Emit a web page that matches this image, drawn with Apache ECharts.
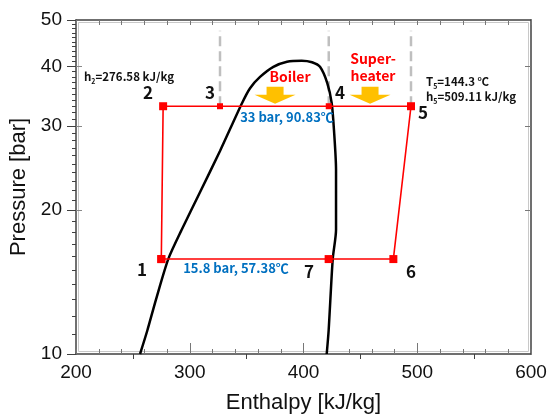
<!DOCTYPE html>
<html>
<head>
<meta charset="utf-8">
<script src="https://cdn.jsdelivr.net/npm/echarts@6/dist/echarts.min.js"></script>
<style>
    html, body { margin: 0; padding: 0; background: #fff; }
    #main { width: 556px; height: 419px; }
</style>
</head>
<body>
<div id="main"></div>
<script>
// 饱和线 (P-h 图)
var domeH = [256.3, 262.7, 270.3, 281.1, 292.9, 309, 326.6, 345.7, 353, 361.8, 373.5, 385.5, 398.4, 407.5, 414.5, 420.9, 424.8, 426.8, 428.6, 428.6, 425.7, 422.1, 420.4];
var domeP = [10, 11.2, 13, 15.8, 18.2, 21.8, 26.6, 33.4, 36, 38, 39.9, 40.9, 41.1, 40.8, 39.9, 36.9, 33.5, 29.4, 24.3, 18.2, 15.8, 11.2, 10];

// 循环状态点 1..7
var stateNames = ['1', '2', '3', '4', '5', '6', '7'];
var stateH = [275, 276.6, 326.6, 422.2, 494.5, 479, 422.1];
var stateP = [15.8, 33, 33, 33, 33, 15.8, 15.8];
var cycleOrder = [0, 1, 2, 3, 4, 5, 6, 0];

// 虚线 (状态 3, 4, 5 上方)
var dashH = [326.6, 422.2, 494.5];
var dashTopP = 47.5;

var xTickLabels = [200, 300, 400, 500, 600];
var yTickLabels = [10, 20, 30, 40, 50];

var xMinor = [];
for (var v = 200; v <= 600; v += 20) xMinor.push(v);
var xHalf = [250, 350, 450, 550];
var yMinor = [];
for (var p = 10; p <= 50; p += 1) yMinor.push(p);

var AXIS_COLOR = '#404040';
var TICK_FONT = '"Liberation Sans", Arial, sans-serif';
var NOTE_FONT = '"Noto Sans CJK KR", "Noto Sans", sans-serif';

var chart = echarts.init(document.getElementById('main'), null, { renderer: 'canvas' });

function gridBox() {
    return { left: 76, right: 25, top: 20, bottom: 65, outerBoundsMode: 'none' };
}
function xBase(grid, pos) {
    return {
        type: 'value', gridIndex: grid, position: pos, min: 200, max: 600, interval: 100,
        splitLine: { show: false },
        axisLine: { show: false, onZero: false },
        axisTick: { show: false },
        axisLabel: { show: false }
    };
}
function yBase(grid, pos) {
    return {
        type: 'log', logBase: 10, gridIndex: grid, position: pos, min: 10, max: 50,
        splitLine: { show: false },
        minorTick: { show: false },
        axisLine: { show: false, onZero: false },
        axisTick: { show: false },
        axisLabel: { show: false }
    };
}

var x0 = xBase(0, 'bottom');
x0.axisLine = { show: true, onZero: false, lineStyle: { color: AXIS_COLOR, width: 1.5 } };
x0.axisTick = { show: true, inside: true, length: 5, customValues: xMinor, lineStyle: { color: '#777' } };
x0.axisLabel = { show: true, customValues: xTickLabels, fontSize: 19, color: '#111', fontFamily: TICK_FONT, margin: 9 };
x0.name = 'Enthalpy [kJ/kg]';
x0.nameLocation = 'middle';
x0.nameGap = 38;
x0.nameTextStyle = { fontSize: 22, color: '#111', fontFamily: TICK_FONT };

var x1 = xBase(0, 'top');
x1.axisLine = { show: true, onZero: false, lineStyle: { color: AXIS_COLOR, width: 1.5 } };
x1.axisTick = { show: true, inside: true, length: 5, customValues: xMinor, lineStyle: { color: '#777' } };

var x2 = xBase(1, 'bottom');
x2.axisTick = { show: true, inside: false, length: 5, customValues: xHalf, lineStyle: { color: AXIS_COLOR } };

var x3 = xBase(2, 'bottom');
x3.axisTick = { show: true, inside: true, length: 11, customValues: [300, 400, 500], lineStyle: { color: '#777' } };

var y0 = yBase(0, 'left');
y0.axisLine = { show: true, onZero: false, lineStyle: { color: AXIS_COLOR, width: 1.5 } };
y0.axisTick = { show: true, inside: false, length: 4, customValues: yMinor, lineStyle: { color: AXIS_COLOR } };
y0.axisLabel = { show: true, customValues: yTickLabels, fontSize: 19, color: '#111', fontFamily: TICK_FONT, margin: 14 };
y0.name = 'Pressure [bar]';
y0.nameLocation = 'middle';
y0.nameGap = 38;
y0.nameTextStyle = { fontSize: 22, color: '#111', fontFamily: TICK_FONT };

var y1 = yBase(0, 'right');
y1.axisLine = { show: true, onZero: false, lineStyle: { color: AXIS_COLOR, width: 1.5 } };
y1.axisTick = { show: true, inside: true, length: 6, customValues: [20, 30, 40], lineStyle: { color: '#777' } };

var y2 = yBase(1, 'left');
y2.axisTick = { show: true, inside: true, length: 6, customValues: [20, 30, 40], lineStyle: { color: '#888' } };

var y3 = yBase(2, 'left');
y3.axisTick = { show: true, inside: false, length: 9, customValues: yTickLabels, lineStyle: { color: AXIS_COLOR } };

var cycleData = cycleOrder.map(function (i) {
    return { value: [stateH[i], stateP[i]], symbolSize: (i === 2 || i === 3) ? 6 : 8 };
});

var dashSeries = dashH.map(function (h) {
    return {
        type: 'line', xAxisIndex: 0, yAxisIndex: 0, silent: true, showSymbol: false, z: 1,
        data: [[h, stateP[2]], [h, dashTopP]],
        lineStyle: { color: '#bfbfbf', width: 2.5, type: [10, 5] }
    };
});

var ARROW = 'path://M12,0 L29,0 L29,8 L41,8 L20.5,17 L0,8 L12,8 Z';

function note(x, y, text, font, fill, align, rich) {
    return {
        type: 'text', x: x, y: y, z: 100,
        style: {
            text: text, font: font, fill: fill,
            align: align || 'center', verticalAlign: 'middle',
            textAlign: align || 'center', textVerticalAlign: 'middle',
            rich: rich
        }
    };
}
var subRich = {
    b: { fontFamily: NOTE_FONT, fontWeight: 'bold', fontSize: 11.5, color: '#111', lineHeight: 15 },
    s: { fontFamily: NOTE_FONT, fontWeight: 'bold', fontSize: 7, color: '#111', lineHeight: 9, verticalAlign: 'bottom' }
};
var numFont = 'bold 17px ' + NOTE_FONT;
var redFont = 'bold 14px ' + NOTE_FONT;
var blueFont = 'bold 13px ' + NOTE_FONT;

chart.setOption({
    animation: false,
    backgroundColor: '#fff',
    grid: [gridBox(), gridBox(), gridBox()],
    xAxis: [x0, x1, x2, x3],
    yAxis: [y0, y1, y2, y3],
    series: dashSeries.concat([
        {
            name: 'saturation',
            type: 'line', xAxisIndex: 0, yAxisIndex: 0, z: 3,
            showSymbol: false, smooth: 0.25,
            data: domeH.map(function (h, i) { return [h, domeP[i]]; }),
            lineStyle: { color: '#000', width: 2.5 }
        },
        {
            name: 'cycle',
            type: 'line', xAxisIndex: 0, yAxisIndex: 0, z: 4,
            symbol: 'rect', showSymbol: true,
            data: cycleData,
            lineStyle: { color: '#ff0000', width: 1.6 },
            itemStyle: { color: '#ff0000' },
            markPoint: {
                silent: true,
                symbol: ARROW,
                symbolSize: [41, 17],
                itemStyle: { color: '#ffc000' },
                label: { show: false },
                data: [
                    { coord: [375, 34.8] },
                    { coord: [458.5, 34.8] }
                ]
            }
        }
    ]),
    graphic: [
        { type: 'rect', z: 0, silent: true, shape: { x: 78.5, y: 22.5, width: 450, height: 329 },
          style: { fill: null, stroke: '#c8c8c8', lineWidth: 1 } },
        note(84, 77, '{b|h}{s|2}{b|=276.58 kJ/kg}', 'bold 11px ' + NOTE_FONT, '#111', 'left', subRich),
        note(426, 82, '{b|T}{s|5}{b|=144.3 ℃}', 'bold 11px ' + NOTE_FONT, '#111', 'left', subRich),
        note(426, 97, '{b|h}{s|5}{b|=509.11 kJ/kg}', 'bold 11px ' + NOTE_FONT, '#111', 'left', subRich),
        note(148, 93, stateNames[1], numFont, '#111'),
        note(210, 93, stateNames[2], numFont, '#111'),
        note(340, 93, stateNames[3], numFont, '#111'),
        note(423, 113, stateNames[4], numFont, '#111'),
        note(142, 270, stateNames[0], numFont, '#111'),
        note(309, 272, stateNames[6], numFont, '#111'),
        note(411, 272, stateNames[5], numFont, '#111'),
        note(290, 77, 'Boiler', redFont, '#ff0000'),
        note(373, 59, 'Super-', redFont, '#ff0000'),
        note(373, 76, 'heater', redFont, '#ff0000'),
        note(287, 117, '33 bar, 90.83℃', blueFont, '#0070c0'),
        note(236, 268, '15.8 bar, 57.38℃', blueFont, '#0070c0')
    ]
});
</script>
</body>
</html>
